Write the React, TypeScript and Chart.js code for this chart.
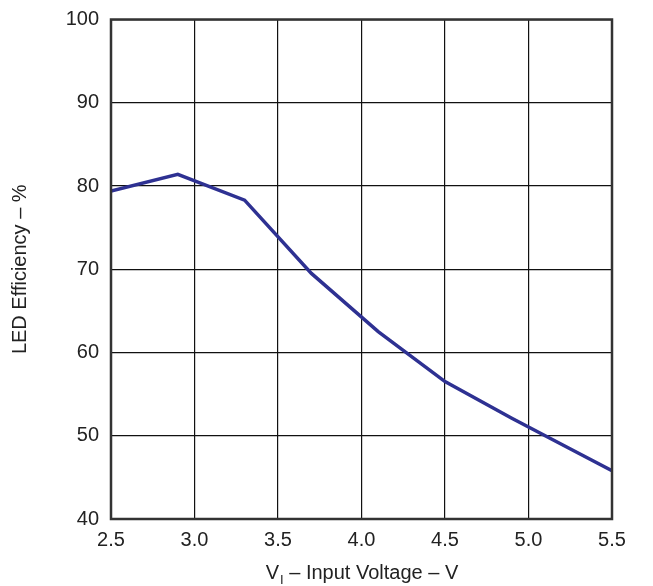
import React, { useEffect, useRef } from "react";
import { Chart, registerables } from "chart.js";

Chart.register(...registerables);

const voltages = [2.5, 2.9, 3.3, 3.7, 4.1, 4.5, 4.9, 5.3, 5.5];
const efficiency = [79.4, 81.4, 78.3, 69.5, 62.5, 56.5, 52.1, 47.9, 45.8];
const yTitle = "LED Efficiency – %";
const xTitleMain = "V";
const xTitleSub = "I";
const xTitleRest = " – Input Voltage – V";

const FONT = "'Liberation Sans', Arial, sans-serif";

export default function App() {
  const ref = useRef<HTMLCanvasElement | null>(null);
  useEffect(() => {
    if (!ref.current) return;
    const frame = {
      id: "frame",
      afterDraw(chart: any) {
        const { ctx, chartArea: a } = chart;
        ctx.save();
        ctx.strokeStyle = "#333";
        ctx.lineWidth = 2.5;
        ctx.strokeRect(a.left, a.top, a.right - a.left, a.bottom - a.top);
        // x title with subscript
        ctx.fillStyle = "#222";
        ctx.textBaseline = "alphabetic";
        const big = `20px ${FONT}`;
        const small = `13px ${FONT}`;
        ctx.font = big;
        const w1 = ctx.measureText(xTitleMain).width;
        const w3 = ctx.measureText(xTitleRest).width;
        ctx.font = small;
        const w2 = ctx.measureText(xTitleSub).width;
        const total = w1 + w2 + w3;
        const cx = (a.left + a.right) / 2;
        let x = cx - total / 2;
        const y = 579;
        ctx.font = big;
        ctx.textAlign = "left";
        ctx.fillText(xTitleMain, x, y);
        x += w1 + 1;
        ctx.font = small;
        ctx.fillText(xTitleSub, x, y + 5);
        x += w2;
        ctx.font = big;
        ctx.fillText(xTitleRest, x, y);
        ctx.restore();
      },
    };
    const chart = new Chart(ref.current, {
      type: "line",
      data: {
        datasets: [
          {
            data: voltages.map((v, i) => ({ x: v, y: efficiency[i] })),
            borderColor: "#2e3192",
            borderWidth: 3.5,
            pointRadius: 0,
            tension: 0,
            fill: false,
          },
        ],
      },
      options: {
        animation: false,
        responsive: false,
        maintainAspectRatio: false,
        layout: { padding: { top: 19.5, right: 41, left: 0, bottom: 0 } },
        plugins: { legend: { display: false }, tooltip: { enabled: false } },
        scales: {
          x: {
            type: "linear",
            min: 2.5,
            max: 5.5,
            afterFit(scale: any) {
              scale.height = 67;
              scale.paddingLeft = 0;
              scale.paddingRight = 0;
            },
            ticks: {
              stepSize: 0.5,
              callback: (v: any) => Number(v).toFixed(1),
              color: "#222",
              font: { family: FONT, size: 20 },
              padding: 9,
              maxRotation: 0,
            },
            grid: { color: "#111", lineWidth: 1.2, drawTicks: false },
            border: { display: false },
          },
          y: {
            min: 40,
            max: 100,
            afterFit(scale: any) {
              scale.width = 111;
              scale.paddingTop = 0;
              scale.paddingBottom = 0;
            },
            ticks: {
              stepSize: 10,
              color: "#222",
              font: { family: FONT, size: 20 },
              padding: 12,
            },
            grid: { color: "#111", lineWidth: 1.2, drawTicks: false },
            border: { display: false },
            title: {
              display: true,
              text: yTitle,
              color: "#222",
              font: { family: FONT, size: 20 },
              padding: { top: 8, bottom: 0 },
            },
          },
        },
      },
      plugins: [frame],
    });
    return () => chart.destroy();
  }, []);
  return (
    <div style={{ position: "fixed", left: 0, top: 0, width: 653, height: 586, background: "#fff" }}>
      <canvas ref={ref} width={653} height={586} style={{ width: 653, height: 586, display: "block" }} />
    </div>
  );
}
